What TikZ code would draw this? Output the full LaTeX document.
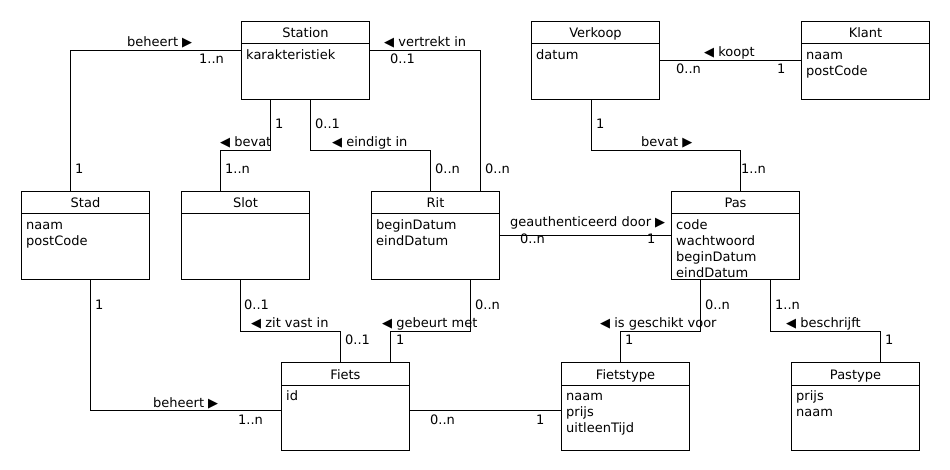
\documentclass[tikz,border=0pt]{standalone}
\usepackage{fontspec}
\setmainfont{DejaVu Sans}

\tikzset{
  klasse/.style={draw, line width=1pt, minimum width=128pt, minimum height=#1, anchor=north west, inner sep=0pt},
  klasse/.default=88pt,
  kop/.style={anchor=base, inner sep=0pt},
  attr/.style={anchor=north west, align=left, inner sep=0pt},
  lijn/.style={line width=1pt},
  rol/.style={anchor=base west, inner sep=0pt},
}

% class box: [height]{name}{north west}{title}{attributes}
\newcommand{\umlklasse}[5][88pt]{%
  \node[klasse=#1] (#2) at #3 {};
  \draw[lijn] ([yshift=-23pt]#2.north west) -- ([yshift=-23pt]#2.north east);
  \node[kop] (#2-naam) at ([yshift=-17pt]#2.north) {#4};
  \node[attr] (#2-attr) at ([xshift=5pt,yshift=-27.3pt]#2.north west) {\strut#5};
}

\begin{document}
\begin{tikzpicture}[x=1pt, y=-1pt, font=\fontsize{13}{16}\selectfont]
            \useasboundingbox (0,0) rectangle (950,470);

            % Classes
            \umlklasse[78pt]{station}{(241,21)}{Station}{karakteristiek}
            \umlklasse[78pt]{verkoop}{(531,21)}{Verkoop}{datum}
            \umlklasse[78pt]{klant}{(801,21)}{Klant}{naam\\postCode}
            \umlklasse{stad}{(21,191)}{Stad}{naam\\postCode}
            \umlklasse{slot}{(181,191)}{Slot}{}
            \umlklasse{rit}{(371,191)}{Rit}{beginDatum\\eindDatum}
            \umlklasse{pas}{(671,191)}{Pas}{code\\wachtwoord\\beginDatum\\eindDatum}
            \umlklasse{fiets}{(281,362)}{Fiets}{id}
            \umlklasse{fietstype}{(561,362)}{Fietstype}{naam\\prijs\\uitleenTijd}
            \umlklasse{pastype}{(791,362)}{Pastype}{prijs\\naam}

            % Associations
            \draw[lijn] ([xshift=-15pt]stad.north) |- ([yshift=10pt]station.west);
            \draw[lijn] ([xshift=-35pt]station.south) -- ++(0,51) -| ([xshift=-25pt]slot.north);
            \draw[lijn] ([xshift=5pt]station.south) -- ++(0,51) -| ([xshift=-5pt]rit.north);
            \draw[lijn] ([yshift=10pt]station.east) -| ([xshift=45pt]rit.north);
            \draw[lijn] (verkoop.east) -- (klant.west);
            \draw[lijn] ([xshift=-4pt]verkoop.south) -- ++(0,51) -| ([xshift=5pt]pas.north);
            \draw[lijn] (rit.east) -- (pas.west);
            \draw[lijn] ([xshift=5pt]stad.south) |- ([yshift=-4pt]fiets.west);
            \draw[lijn] ([xshift=-5pt]slot.south) -- ++(0,51) -| ([xshift=-5pt]fiets.north);
            \draw[lijn] ([xshift=35pt]rit.south) -- ++(0,51) -| ([xshift=45pt]fiets.north);
            \draw[lijn] ([yshift=-4pt]fiets.east) -- ([yshift=-4pt]fietstype.west);
            \draw[lijn] ([xshift=-35pt]pas.south) -- ++(0,51) -| ([xshift=-5pt]fietstype.north);
            \draw[lijn] ([xshift=35pt]pas.south) -- ++(0,51) -| ([xshift=25pt]pastype.north);

            % Labels
            \node[rol] (beheert-stat) at (127,46.5) {beheert ▶};
            \node[rol] (beheert-stat-a) at (199,64) {1..n};
            \node[rol] (beheert-stat-b) at (75,174) {1};
            \node[rol] (bevat-slot) at (220,147) {◀ bevat};
            \node[rol] (bevat-slot-a) at (275,129) {1};
            \node[rol] (bevat-slot-b) at (225,174) {1..n};
            \node[rol] (vertrekt) at (384,47) {◀ vertrekt in};
            \node[rol] (vertrekt-a) at (390,64) {0..1};
            \node[rol] (vertrekt-b) at (485,174) {0..n};
            \node[rol] (eindigt) at (332,147) {◀ eindigt in};
            \node[rol] (eindigt-a) at (315,129) {0..1};
            \node[rol] (eindigt-b) at (435,174) {0..n};
            \node[rol] (koopt) at (704,57) {◀ koopt};
            \node[rol] (koopt-a) at (676,74) {0..n};
            \node[rol] (koopt-b) at (777,74) {1};
            \node[rol] (bevat-pas) at (641,147) {bevat ▶};
            \node[rol] (bevat-pas-a) at (596,129) {1};
            \node[rol] (bevat-pas-b) at (741,174) {1..n};
            \node[rol] (geauth) at (510,227) {geauthenticeerd door ▶};
            \node[rol] (geauth-a) at (520,244) {0..n};
            \node[rol] (geauth-b) at (647,244) {1};
            \node[rol] (beheert-fiets) at (153,407) {beheert ▶};
            \node[rol] (beheert-fiets-a) at (95,309) {1};
            \node[rol] (beheert-fiets-b) at (238,424) {1..n};
            \node[rol] (zitvast) at (251,327) {◀ zit vast in};
            \node[rol] (zitvast-a) at (244,309) {0..1};
            \node[rol] (zitvast-b) at (345,344) {0..1};
            \node[rol] (gebeurt) at (382,327) {◀ gebeurt met};
            \node[rol] (gebeurt-a) at (475,309) {0..n};
            \node[rol] (gebeurt-b) at (396,344) {1};
            \node[rol] (soort-a) at (430,424) {0..n};
            \node[rol] (soort-b) at (536,424) {1};
            \node[rol] (geschikt) at (600,327) {◀ is geschikt voor};
            \node[rol] (geschikt-a) at (705,309) {0..n};
            \node[rol] (geschikt-b) at (625,344) {1};
            \node[rol] (beschrijft) at (786,327) {◀ beschrijft};
            \node[rol] (beschrijft-a) at (775,309) {1..n};
            \node[rol] (beschrijft-b) at (885,344) {1};

\end{tikzpicture}
\end{document}
